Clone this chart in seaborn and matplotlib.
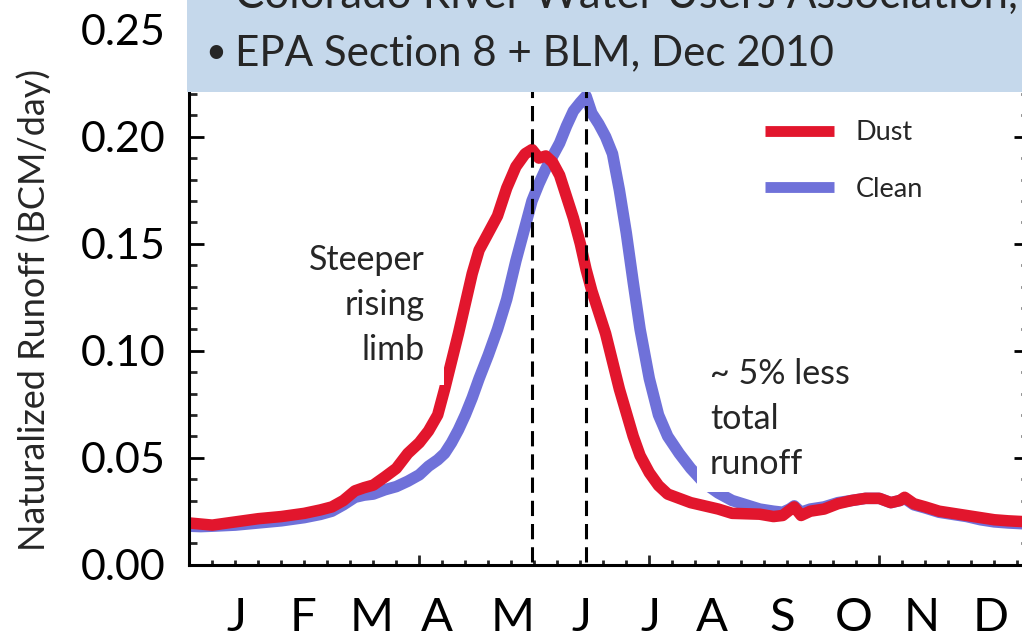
import numpy as np
import pandas as pd
import seaborn as sns
import matplotlib.pyplot as plt
from matplotlib.patches import Rectangle
from matplotlib.lines import Line2D
from matplotlib.ticker import MultipleLocator, FormatStrFormatter

sns.set_theme(style="ticks")
plt.rcParams['font.family'] = ['Lato', 'DejaVu Sans']

# Day of year for each sample
days = [0, 5, 10, 20, 30, 40, 50, 57, 62, 67, 72, 76, 80, 85, 90, 95, 100, 104,
        108, 111, 114, 117, 120, 123, 126, 130, 134, 138, 142, 146, 149, 152, 155,
        158, 161, 164, 167, 170, 172.5, 175, 178, 181, 184, 187, 190, 193, 196, 200,
        204, 208, 213, 218, 224, 230, 236, 242, 248, 254, 258, 261, 263, 266, 270,
        276, 282, 288, 294, 300, 305, 309, 311, 315, 320, 326, 332, 338, 344, 350,
        356, 365]

# Naturalized runoff (BCM/day), dust-on-snow scenario
dust = [0.0195, 0.019, 0.0185, 0.020, 0.0215, 0.0225, 0.024, 0.0256, 0.027, 0.030,
        0.0345, 0.036, 0.0372, 0.041, 0.045, 0.052, 0.057, 0.0625, 0.070, 0.082,
        0.095, 0.108, 0.122, 0.136, 0.147, 0.155, 0.163, 0.176, 0.186, 0.192, 0.194,
        0.190, 0.191, 0.188, 0.182, 0.172, 0.162, 0.150, 0.138, 0.128, 0.118, 0.108,
        0.095, 0.082, 0.071, 0.060, 0.051, 0.043, 0.037, 0.033, 0.031, 0.029, 0.0275,
        0.026, 0.024, 0.0238, 0.0236, 0.0225, 0.023, 0.0255, 0.027, 0.023, 0.025,
        0.026, 0.0285, 0.030, 0.031, 0.031, 0.029, 0.030, 0.0315, 0.0285, 0.027,
        0.025, 0.024, 0.023, 0.022, 0.021, 0.0205, 0.020]

# Naturalized runoff (BCM/day), clean-snow scenario
clean = [0.018, 0.0178, 0.018, 0.0185, 0.0195, 0.0205, 0.022, 0.0235, 0.025, 0.028,
         0.0315, 0.0325, 0.033, 0.035, 0.0365, 0.039, 0.042, 0.046, 0.049, 0.052,
         0.057, 0.063, 0.070, 0.078, 0.087, 0.098, 0.110, 0.124, 0.142, 0.158, 0.170,
         0.178, 0.185, 0.191, 0.197, 0.205, 0.212, 0.216, 0.219, 0.211, 0.206, 0.200,
         0.192, 0.175, 0.155, 0.132, 0.110, 0.087, 0.070, 0.060, 0.052, 0.045, 0.038,
         0.0335, 0.030, 0.028, 0.026, 0.025, 0.0245, 0.026, 0.0275, 0.0245, 0.026,
         0.027, 0.029, 0.030, 0.031, 0.031, 0.029, 0.030, 0.031, 0.028, 0.0265,
         0.0245, 0.0235, 0.0225, 0.021, 0.020, 0.0195, 0.019]

month_labels = ["J", "F", "M", "A", "M", "J", "J", "A", "S", "O", "N", "D"]
month_label_days = [20.7, 49.4, 79.4, 107.7, 140.7, 170.3, 200.3, 227.3, 257.8,
                    288.7, 318.3, 348.3]
peak_days = [149, 172.5]

y_ticks = [0.00, 0.05, 0.10, 0.15, 0.20, 0.25]

RED = "#e2162d"
BLUE = "#6f71d9"
BOX = "#c5d8eb"

df = pd.concat([
    pd.DataFrame({"day": days, "runoff": clean, "series": "Clean"}),
    pd.DataFrame({"day": days, "runoff": dust, "series": "Dust"}),
])

W, H = 1022, 639
fig = plt.figure(figsize=(W / 100, H / 100), dpi=100)
ax = fig.add_axes([189.3 / W, 1 - 564.7 / H, 839.5 / W, 535 / H])

sns.lineplot(data=df, x="day", y="runoff", hue="series",
             hue_order=["Clean", "Dust"],
             palette={"Dust": RED, "Clean": BLUE},
             linewidth=8.3, legend=False, ax=ax, estimator=None, sort=False)
for ln in ax.lines:
    ln.set_solid_capstyle("butt")
    ln.set_solid_joinstyle("round")

for d in peak_days:
    ax.axvline(d, ymin=0.005, ymax=1, color="black", lw=2.2,
               dashes=(5.0, 2.6), zorder=5)

ax.set_xlim(0, 365)
ax.set_ylim(0, 0.25)
ax.set_xlabel("")
ax.set_ylabel("Naturalized Runoff (BCM/day)", fontsize=26)
ax.yaxis.set_label_coords(-0.165, 0.476)

ax.set_yticks(y_ticks)
ax.yaxis.set_major_formatter(FormatStrFormatter("%.2f"))
ax.yaxis.set_minor_locator(MultipleLocator(0.01))
ax.xaxis.set_major_locator(MultipleLocator(100))
ax.xaxis.set_minor_locator(MultipleLocator(10))
ax.set_xticklabels([])

ax.tick_params(axis="y", which="major", direction="in", length=11, width=2,
               left=True, right=True, pad=17, labelsize=31, colors="black")
ax.tick_params(axis="y", which="minor", direction="in", length=5.5, width=2,
               left=True, right=True)
ax.tick_params(axis="x", which="major", direction="in", length=7, width=2,
               bottom=True, top=False)
ax.tick_params(axis="x", which="minor", direction="in", length=3.5, width=2,
               bottom=True, top=False)
for s in ax.spines.values():
    s.set_linewidth(2.2)
    s.set_color("black")

xt = ax.get_xaxis_transform()
for lab, d in zip(month_labels, month_label_days):
    ax.text(d, -0.1, lab, transform=xt, ha="center", va="center",
            fontsize=34, color="black")

# Legend
handles = [Line2D([], [], color=RED, lw=7.8, solid_capstyle="butt"),
           Line2D([], [], color=BLUE, lw=7.8, solid_capstyle="butt")]
ax.legend(handles, ["Dust", "Clean"], loc="upper left",
          bbox_to_anchor=(765 / W, 1 - 120 / H), bbox_transform=fig.transFigure,
          frameon=False, fontsize=19.5, handlelength=2.55, handletextpad=0.8,
          labelspacing=1.17, borderpad=0, borderaxespad=0)

# Annotations with white backing
ax.text(102.5, 0.1213, "Steeper\nrising\nlimb", ha="right", va="center",
        fontsize=24.5, linespacing=1.5, zorder=6,
        bbox=dict(boxstyle="square,pad=0.55", facecolor="white", edgecolor="none"))
ax.text(226.4, 0.0683, "~ 5% less\ntotal\nrunoff", ha="left", va="center",
        fontsize=24.5, linespacing=1.5, zorder=6,
        bbox=dict(boxstyle="square,pad=0.38", facecolor="white", edgecolor="none"))

# Header banner
fig.add_artist(Rectangle((187 / W, 1 - 92 / H), 1, 92 / H, transform=fig.transFigure,
                         facecolor=BOX, edgecolor="none", zorder=10))
fig.text(235 / W, 1 - 8 / H, "Colorado River Water Users Association,",
         ha="left", va="baseline", fontsize=31.5, zorder=11)
fig.text(205 / W, 1 - 63 / H, "\u2022", ha="left", va="baseline", fontsize=26, zorder=11)
fig.text(235 / W, 1 - 65 / H, "EPA Section 8 + BLM, Dec 2010",
         ha="left", va="baseline", fontsize=30.3, zorder=11)

fig.savefig("out.png", dpi=100)
